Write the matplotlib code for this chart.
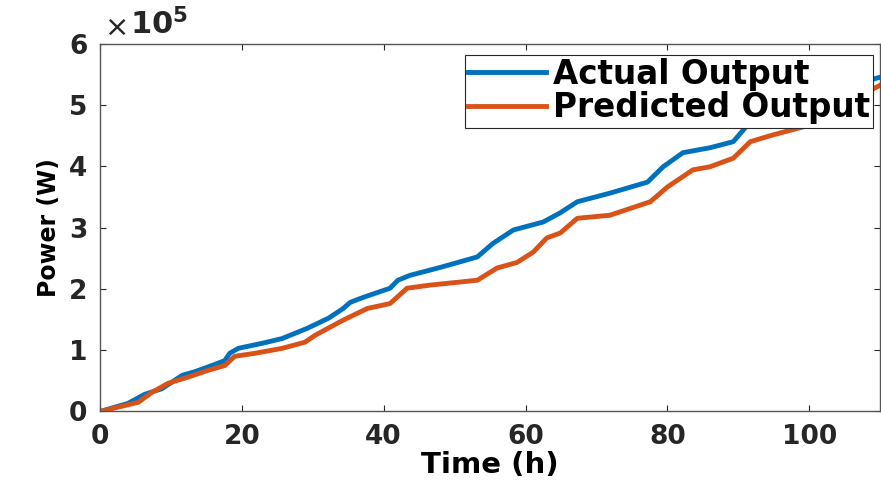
import numpy as np
import matplotlib
matplotlib.use('Agg')
import matplotlib.pyplot as plt
from matplotlib.ticker import FuncFormatter

# data (power in units of 1e5 W)
hours_actual = [0, 3.9, 6.3, 8.7, 11.6, 13.4, 15.8, 17.6, 18.3, 19.5, 22.8, 25.7, 29.3, 32.2,
                34.3, 35.3, 37.1, 40.9, 42.0, 43.7, 48.0, 53.2, 55.4, 58.3, 62.5, 64.9, 67.3,
                71.9, 77.2, 79.4, 82.2, 86.0, 89.3, 91.3, 95.0, 100.0, 105.0, 110.0]
actual = [0, 0.13, 0.28, 0.37, 0.59, 0.65, 0.75, 0.83, 0.95, 1.03, 1.11, 1.19, 1.36, 1.52,
          1.68, 1.78, 1.86, 2.01, 2.14, 2.22, 2.35, 2.52, 2.74, 2.96, 3.09, 3.24, 3.42,
          3.56, 3.74, 3.99, 4.22, 4.30, 4.40, 4.67, 4.90, 5.10, 5.30, 5.45]

hours_pred = [0, 5.4, 7.3, 9.6, 12.4, 15.2, 17.6, 19.0, 21.9, 25.7, 28.9, 30.3, 32.2, 34.3,
              37.7, 40.9, 43.3, 46.5, 53.2, 56.0, 58.8, 61.1, 63.0, 64.9, 67.3, 71.9, 77.6,
              80.0, 83.6, 86.0, 89.3, 91.7, 94.9, 100.1, 104.0, 110.0]
predicted = [0, 0.15, 0.31, 0.46, 0.56, 0.67, 0.75, 0.90, 0.95, 1.03, 1.13, 1.24, 1.36, 1.49,
             1.68, 1.76, 2.01, 2.06, 2.14, 2.34, 2.43, 2.60, 2.83, 2.91, 3.15, 3.20, 3.42,
             3.66, 3.94, 3.99, 4.13, 4.40, 4.51, 4.67, 4.95, 5.32]

x_ticks = [0, 20, 40, 60, 80, 100]
y_ticks = [0, 1e5, 2e5, 3e5, 4e5, 5e5, 6e5]

plt.rcParams['font.family'] = 'DejaVu Sans'
plt.rcParams['font.weight'] = 'bold'

fig = plt.figure(figsize=(8.81, 4.95), dpi=100)
ax = fig.add_axes([0.1135, 0.1687, 0.8855, 0.7434])

ax.plot(hours_actual, np.array(actual) * 1e5, color='#0072BD', lw=3.5, label='Actual Output')
ax.plot(hours_pred, np.array(predicted) * 1e5, color='#D95319', lw=3.5, label='Predicted Output')

ax.set_xlim(0, 110)
ax.set_ylim(0, 6e5)
ax.set_xticks(x_ticks)
ax.set_yticks(y_ticks)
ax.yaxis.set_major_formatter(FuncFormatter(lambda v, p: '%g' % (v / 1e5)))

# exponent label at the top-left like MATLAB
fig.text(105 / 881, 1 - 36 / 495, '\u00d7', fontsize=21, fontweight='normal',
         ha='left', va='baseline', color='#262626')
fig.text(130.5 / 881, 1 - 34 / 495, r'$\mathbf{10^{5}}$', fontsize=22,
         ha='left', va='baseline', color='#262626')

ax.tick_params(direction='in', length=4, width=0.8, top=True, right=True,
               labelsize=19, colors='#262626', pad=9)
for lbl in ax.get_xticklabels() + ax.get_yticklabels():
    lbl.set_fontweight('bold')
for sp in ax.spines.values():
    sp.set_color('#555555')
    sp.set_linewidth(1.0)

ax.set_xlabel('Time (h)', fontsize=21, fontweight='bold', labelpad=1)
ax.set_ylabel('Power (W)', fontsize=17, fontweight='bold', labelpad=6)

leg = ax.legend(loc='upper right', bbox_to_anchor=(0.991, 0.97), fontsize=23.5,
                handlelength=2.4, handletextpad=0.2, borderpad=0.1, labelspacing=0.02,
                borderaxespad=0.0, fancybox=False, framealpha=1)
leg.get_frame().set_edgecolor('#262626')
leg.get_frame().set_linewidth(0.8)
for t in leg.get_texts():
    t.set_fontweight('bold')

fig.savefig('out.png', dpi=100)
